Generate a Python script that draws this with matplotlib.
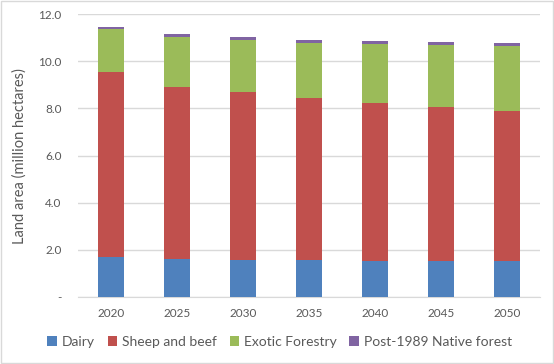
import matplotlib.pyplot as plt
import numpy as np

# Data (million hectares)
years = ["2020", "2025", "2030", "2035", "2040", "2045", "2050"]
dairy = [1.70, 1.61, 1.57, 1.58, 1.53, 1.53, 1.53]
sheep_beef = [7.85, 7.29, 7.12, 6.86, 6.70, 6.53, 6.36]
exotic_forestry = [1.82, 2.13, 2.22, 2.33, 2.50, 2.63, 2.75]
native_forest = [0.08, 0.12, 0.12, 0.13, 0.13, 0.12, 0.13]

series = [
    ("Dairy", dairy, "#4F81BD"),
    ("Sheep and beef", sheep_beef, "#C0504D"),
    ("Exotic Forestry", exotic_forestry, "#9BBB59"),
    ("Post-1989 Native forest", native_forest, "#8064A2"),
]

plt.rcParams["font.family"] = ["Lato", "DejaVu Sans"]

fig = plt.figure(figsize=(5.54, 3.64), dpi=100)
ax = fig.add_axes([0.141, 0.184, 0.834, 0.777])

x = np.arange(len(years))
bottom = np.zeros(len(years))
for name, vals, color in series:
    ax.bar(x, vals, width=0.4, bottom=bottom, color=color, label=name, zorder=3)
    bottom += np.array(vals)

ax.set_xlim(-0.5, len(years) - 0.5)
ax.set_ylim(0, 12)
ax.set_yticks(np.arange(0, 12.1, 2))
ax.set_yticklabels(["-"] + [f"{v:.1f}" for v in np.arange(2, 12.1, 2)])
ax.set_xticks(x)
ax.set_xticklabels(years)
ax.tick_params(axis="both", length=0, labelsize=8.5, colors="#595959", pad=8)
ax.tick_params(axis="y", pad=12)

ax.yaxis.grid(True, color="#D9D9D9", linewidth=1, zorder=0)
for side in ["top", "right", "left"]:
    ax.spines[side].set_visible(False)
ax.spines["bottom"].set_color("#D9D9D9")

ax.set_ylabel("Land area (million hectares)", fontsize=10.5, color="#595959", labelpad=8)

fig.legend(loc="center", bbox_to_anchor=(0.505, 0.06), ncol=4, frameon=False,
           fontsize=10, handlelength=0.7, handleheight=0.7, handletextpad=0.35,
           columnspacing=0.9, labelcolor="#595959")

# outer chart border
fig.patches.append(plt.Rectangle((0.002, 0.003), 0.996, 0.994, transform=fig.transFigure,
                                 fill=False, edgecolor="#D9D9D9", linewidth=1))

fig.savefig("out.png", dpi=100)
